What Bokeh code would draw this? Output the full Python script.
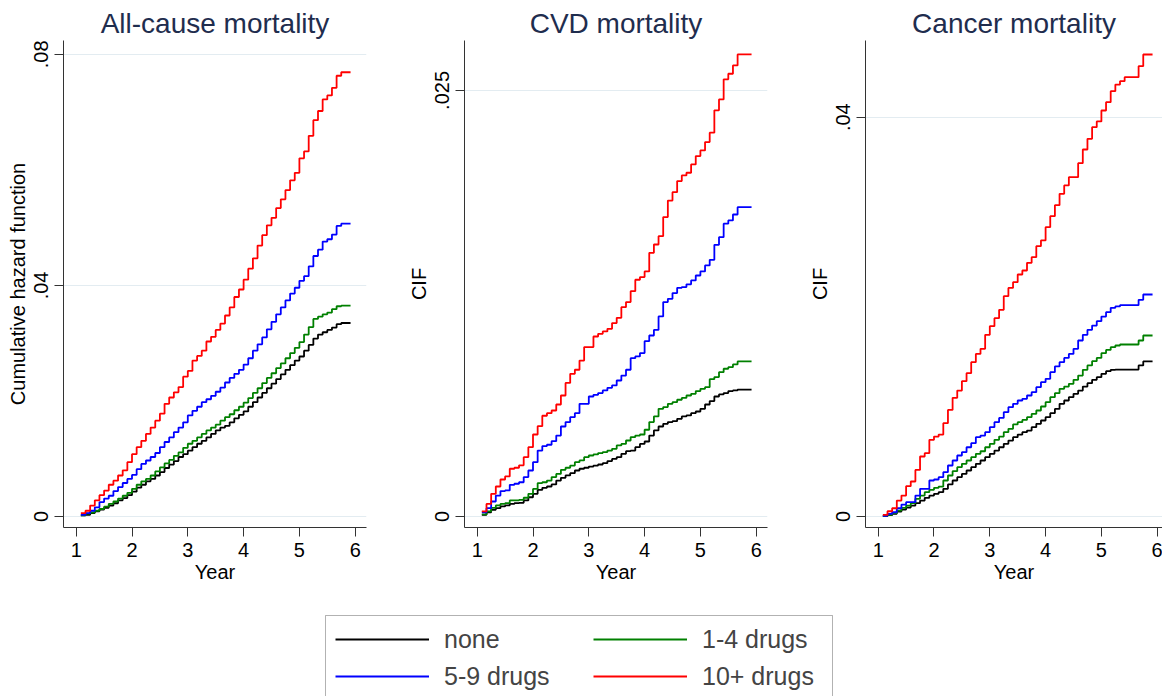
from bokeh.plotting import figure
from bokeh.layouts import column, row
from bokeh.models import Range1d, FixedTicker, Legend, LegendItem, CustomJSTickFormatter, BoxAnnotation
from bokeh.embed import file_html
from bokeh.resources import INLINE

# ---------------- data ----------------
year = [m / 12 for m in range(13, 72)]  # monthly follow-up, years

groups = ["none", "1-4 drugs", "5-9 drugs", "10+ drugs"]
colors = ["#000000", "#008000", "#0000ff", "#ff0000"]

# All-cause mortality: cumulative hazard
all_none = [0.0002, 0.0003, 0.0006, 0.0009, 0.0012, 0.0015, 0.0019, 0.0023, 0.0028, 0.0032,
            0.0037, 0.0043, 0.0050, 0.0055, 0.0061, 0.0065, 0.0071, 0.0077, 0.0084, 0.0090,
            0.0096, 0.0103, 0.0108, 0.0114, 0.0120, 0.0126, 0.0131, 0.0137, 0.0143, 0.0149,
            0.0154, 0.0157, 0.0163, 0.0170, 0.0176, 0.0182, 0.0190, 0.0198, 0.0206, 0.0214,
            0.0222, 0.0230, 0.0238, 0.0246, 0.0254, 0.0262, 0.0270, 0.0277, 0.0287, 0.0297,
            0.0308, 0.0315, 0.0319, 0.0323, 0.0327, 0.0333, 0.0335, 0.0335, 0.0335]
all_1_4 = [0.0002, 0.0005, 0.0007, 0.0010, 0.0013, 0.0017, 0.0022, 0.0026, 0.0031, 0.0036,
           0.0041, 0.0048, 0.0055, 0.0061, 0.0065, 0.0071, 0.0078, 0.0085, 0.0092, 0.0098,
           0.0105, 0.0111, 0.0119, 0.0126, 0.0131, 0.0137, 0.0143, 0.0149, 0.0154, 0.0159,
           0.0166, 0.0172, 0.0177, 0.0184, 0.0190, 0.0197, 0.0205, 0.0214, 0.0222, 0.0231,
           0.0240, 0.0248, 0.0257, 0.0265, 0.0274, 0.0283, 0.0292, 0.0302, 0.0315, 0.0328,
           0.0342, 0.0346, 0.0350, 0.0353, 0.0359, 0.0364, 0.0365, 0.0365, 0.0365]
all_5_9 = [0.0003, 0.0006, 0.0010, 0.0016, 0.0025, 0.0031, 0.0036, 0.0044, 0.0051, 0.0058,
           0.0065, 0.0072, 0.0082, 0.0091, 0.0097, 0.0103, 0.0110, 0.0120, 0.0129, 0.0137,
           0.0146, 0.0154, 0.0163, 0.0175, 0.0183, 0.0190, 0.0198, 0.0203, 0.0209, 0.0216,
           0.0223, 0.0232, 0.0240, 0.0247, 0.0254, 0.0263, 0.0274, 0.0287, 0.0298, 0.0310,
           0.0324, 0.0337, 0.0350, 0.0362, 0.0374, 0.0386, 0.0396, 0.0408, 0.0416, 0.0433,
           0.0451, 0.0462, 0.0476, 0.0480, 0.0488, 0.0503, 0.0507, 0.0507, 0.0507]
all_10p = [0.0006, 0.0010, 0.0019, 0.0028, 0.0037, 0.0045, 0.0055, 0.0062, 0.0071, 0.0080,
           0.0094, 0.0108, 0.0120, 0.0131, 0.0143, 0.0154, 0.0166, 0.0178, 0.0195, 0.0206,
           0.0215, 0.0224, 0.0242, 0.0252, 0.0270, 0.0278, 0.0287, 0.0303, 0.0311, 0.0323,
           0.0334, 0.0348, 0.0362, 0.0380, 0.0393, 0.0410, 0.0429, 0.0447, 0.0469, 0.0487,
           0.0504, 0.0517, 0.0534, 0.0549, 0.0565, 0.0582, 0.0595, 0.0620, 0.0632, 0.0659,
           0.0686, 0.0702, 0.0722, 0.0729, 0.0742, 0.0763, 0.0769, 0.0769, 0.0769]

# CVD mortality: CIF
cvd_none = [0.00010, 0.00025, 0.00039, 0.00049, 0.00059, 0.00065, 0.00074, 0.00078, 0.00080, 0.00094,
            0.00113, 0.00133, 0.00156, 0.00168, 0.00176, 0.00188, 0.00211, 0.00227, 0.00241, 0.00254,
            0.00270, 0.00280, 0.00286, 0.00293, 0.00299, 0.00305, 0.00313, 0.00325, 0.00338, 0.00348,
            0.00368, 0.00383, 0.00387, 0.00407, 0.00426, 0.00440, 0.00475, 0.00505, 0.00528, 0.00544,
            0.00554, 0.00559, 0.00573, 0.00587, 0.00593, 0.00606, 0.00616, 0.00632, 0.00657, 0.00677,
            0.00704, 0.00716, 0.00724, 0.00736, 0.00740, 0.00745, 0.00745, 0.00745, 0.00745]
cvd_1_4 = [0.00012, 0.00030, 0.00051, 0.00065, 0.00074, 0.00078, 0.00094, 0.00094, 0.00098, 0.00110,
           0.00133, 0.00162, 0.00196, 0.00201, 0.00211, 0.00231, 0.00250, 0.00274, 0.00286, 0.00299,
           0.00319, 0.00329, 0.00348, 0.00358, 0.00364, 0.00372, 0.00378, 0.00387, 0.00397, 0.00417,
           0.00426, 0.00446, 0.00466, 0.00475, 0.00481, 0.00509, 0.00554, 0.00587, 0.00632, 0.00642,
           0.00661, 0.00671, 0.00685, 0.00696, 0.00710, 0.00720, 0.00736, 0.00749, 0.00759, 0.00806,
           0.00818, 0.00847, 0.00867, 0.00876, 0.00892, 0.00910, 0.00910, 0.00910, 0.00910]
cvd_5_9 = [0.00025, 0.00049, 0.00088, 0.00123, 0.00149, 0.00153, 0.00186, 0.00192, 0.00201, 0.00231,
           0.00270, 0.00319, 0.00387, 0.00413, 0.00421, 0.00442, 0.00475, 0.00528, 0.00554, 0.00583,
           0.00606, 0.00661, 0.00661, 0.00704, 0.00714, 0.00724, 0.00740, 0.00755, 0.00769, 0.00798,
           0.00827, 0.00861, 0.00929, 0.00939, 0.00959, 0.01029, 0.01062, 0.01095, 0.01174, 0.01258,
           0.01277, 0.01311, 0.01342, 0.01346, 0.01362, 0.01385, 0.01414, 0.01438, 0.01473, 0.01506,
           0.01594, 0.01639, 0.01718, 0.01737, 0.01772, 0.01815, 0.01815, 0.01815, 0.01815]
cvd_10p = [0.00030, 0.00074, 0.00133, 0.00176, 0.00217, 0.00235, 0.00280, 0.00286, 0.00300, 0.00348,
           0.00407, 0.00481, 0.00530, 0.00591, 0.00606, 0.00622, 0.00657, 0.00710, 0.00784, 0.00837,
           0.00861, 0.00915, 0.00994, 0.00994, 0.01056, 0.01072, 0.01086, 0.01101, 0.01135, 0.01166,
           0.01228, 0.01258, 0.01322, 0.01389, 0.01405, 0.01438, 0.01547, 0.01596, 0.01645, 0.01757,
           0.01854, 0.01903, 0.01968, 0.02001, 0.02017, 0.02066, 0.02115, 0.02148, 0.02197, 0.02252,
           0.02383, 0.02447, 0.02565, 0.02598, 0.02647, 0.02711, 0.02711, 0.02711, 0.02711]

# Cancer mortality: CIF
can_none = [0.00003, 0.00013, 0.00027, 0.00050, 0.00070, 0.00090, 0.00110, 0.00134, 0.00160, 0.00187,
            0.00210, 0.00227, 0.00244, 0.00277, 0.00321, 0.00361, 0.00394, 0.00427, 0.00461, 0.00494,
            0.00528, 0.00561, 0.00594, 0.00628, 0.00661, 0.00694, 0.00728, 0.00761, 0.00795, 0.00821,
            0.00845, 0.00861, 0.00895, 0.00928, 0.00962, 0.00995, 0.01035, 0.01078, 0.01129, 0.01162,
            0.01195, 0.01229, 0.01262, 0.01302, 0.01336, 0.01369, 0.01396, 0.01429, 0.01456, 0.01469,
            0.01472, 0.01472, 0.01472, 0.01472, 0.01472, 0.01513, 0.01553, 0.01553, 0.01553]
can_1_4 = [0.00007, 0.00017, 0.00033, 0.00060, 0.00087, 0.00110, 0.00134, 0.00177, 0.00210, 0.00244,
           0.00267, 0.00287, 0.00300, 0.00361, 0.00411, 0.00454, 0.00494, 0.00528, 0.00561, 0.00594,
           0.00628, 0.00654, 0.00694, 0.00728, 0.00768, 0.00801, 0.00845, 0.00878, 0.00922, 0.00945,
           0.00968, 0.00995, 0.01028, 0.01062, 0.01102, 0.01145, 0.01195, 0.01235, 0.01279, 0.01302,
           0.01329, 0.01369, 0.01412, 0.01469, 0.01513, 0.01556, 0.01589, 0.01636, 0.01669, 0.01696,
           0.01713, 0.01723, 0.01723, 0.01723, 0.01723, 0.01763, 0.01813, 0.01813, 0.01813]
can_5_9 = [0.00007, 0.00027, 0.00043, 0.00083, 0.00120, 0.00144, 0.00144, 0.00210, 0.00277, 0.00277,
           0.00361, 0.00371, 0.00394, 0.00444, 0.00511, 0.00561, 0.00611, 0.00644, 0.00694, 0.00735,
           0.00795, 0.00811, 0.00845, 0.00895, 0.00945, 0.00988, 0.01045, 0.01095, 0.01129, 0.01162,
           0.01179, 0.01212, 0.01245, 0.01296, 0.01346, 0.01379, 0.01446, 0.01503, 0.01546, 0.01589,
           0.01629, 0.01680, 0.01763, 0.01820, 0.01870, 0.01913, 0.01957, 0.02003, 0.02047, 0.02090,
           0.02104, 0.02117, 0.02117, 0.02117, 0.02117, 0.02170, 0.02224, 0.02224, 0.02224]
can_10p = [0.00017, 0.00053, 0.00083, 0.00160, 0.00210, 0.00304, 0.00351, 0.00467, 0.00601, 0.00634,
           0.00768, 0.00801, 0.00821, 0.00935, 0.01068, 0.01189, 0.01262, 0.01356, 0.01436, 0.01546,
           0.01629, 0.01680, 0.01820, 0.01907, 0.01987, 0.02070, 0.02207, 0.02290, 0.02347, 0.02424,
           0.02464, 0.02541, 0.02598, 0.02708, 0.02765, 0.02898, 0.03008, 0.03119, 0.03232, 0.03316,
           0.03399, 0.03399, 0.03539, 0.03676, 0.03783, 0.03900, 0.03957, 0.04067, 0.04150, 0.04260,
           0.04327, 0.04361, 0.04401, 0.04401, 0.04401, 0.04511, 0.04628, 0.04628, 0.04628]

x_ticks = [1, 2, 3, 4, 5, 6]
panels = [
    dict(title="All-cause mortality", ylabel="Cumulative hazard function",
         series=[all_none, all_1_4, all_5_9, all_10p], yticks=[0, 0.04, 0.08],
         yrange=(-0.0019, 0.0824)),
    dict(title="CVD mortality", ylabel="CIF",
         series=[cvd_none, cvd_1_4, cvd_5_9, cvd_10p], yticks=[0, 0.025],
         yrange=(-0.000646, 0.02793)),
    dict(title="Cancer mortality", ylabel="CIF",
         series=[can_none, can_1_4, can_5_9, can_10p], yticks=[0, 0.04],
         yrange=(-0.0011, 0.04768)),
]

FONT = "Liberation Sans"
fmt = CustomJSTickFormatter(code="return tick == 0 ? '0' : String(tick).replace(/^0\\./, '.');")

figs = []
for i, pc in enumerate(panels):
    last = i == 2
    w = 360 if last else 401
    xmax = 6.095 if last else 6.2025
    p = figure(width=w, height=600, x_range=Range1d(0.7724, xmax),
               y_range=Range1d(*pc["yrange"]), output_backend="svg",
               toolbar_location=None, min_border_left=63,
               min_border_right=0 if last else 35, min_border_top=40,
               min_border_bottom=73, title=pc["title"])
    p.outline_line_color = None
    p.background_fill_color = "white"
    p.title.align = "center"
    p.title.text_font = FONT
    p.title.text_font_size = "28px"
    p.title.text_font_style = "normal"
    p.title.text_color = "#1f2d4e"
    p.title.standoff = 4
    if last:
        p.title.offset = 4

    p.xgrid.visible = False
    p.ygrid.ticker = FixedTicker(ticks=pc["yticks"])
    p.ygrid.grid_line_color = "#e3ecf1"
    p.ygrid.grid_line_width = 1

    p.xaxis.ticker = FixedTicker(ticks=x_ticks)
    p.yaxis.ticker = FixedTicker(ticks=pc["yticks"])
    p.yaxis.formatter = fmt
    p.yaxis.major_label_orientation = "vertical"
    for ax in (p.xaxis, p.yaxis):
        ax.axis_line_color = "#333333"
        ax.major_tick_line_color = "#333333"
        ax.major_tick_out = 9
        ax.major_tick_in = 0
        ax.minor_tick_line_color = None
        ax.major_label_text_font = FONT
        ax.major_label_text_font_size = "20px"
        ax.major_label_text_color = "black"
        ax.axis_label_text_font = FONT
        ax.axis_label_text_font_size = "20px"
        ax.axis_label_text_font_style = "normal"
        ax.axis_label_text_color = "black"
    p.xaxis.axis_label = "Year"
    p.yaxis.axis_label = pc["ylabel"]
    p.xaxis.major_label_standoff = 6
    p.xaxis.axis_label_standoff = 1
    p.yaxis.major_label_standoff = 6
    p.yaxis.axis_label_standoff = 3

    for vals, c in zip(pc["series"], colors):
        p.step(year, vals, mode="after", line_color=c, line_width=1.8)
    figs.append(p)

# ---------------- legend ----------------
leg = figure(width=1162, height=96, x_range=Range1d(0, 1162), y_range=Range1d(96, 0),
             output_backend="svg", toolbar_location=None, min_border=0,
             x_axis_type=None, y_axis_type=None)
leg.outline_line_color = None
leg.grid.visible = False
leg.add_layout(BoxAnnotation(left=325, right=832, top=15, bottom=140,
                             fill_color=None, fill_alpha=0, line_color="black",
                             line_width=1))
rends = []
for c in colors:
    rends.append(leg.line(x=[-20, -10], y=[-20, -10], line_color=c, line_width=2))

leg_rows = [[0, 1], [2, 3]]
leg_locs = [(335, 42), (335, 5)]
for idxs, loc in zip(leg_rows, leg_locs):
    lg = Legend(items=[LegendItem(label=groups[k], renderers=[rends[k]]) for k in idxs],
                location=loc, orientation="horizontal",
                label_text_font=FONT, label_text_font_size="25px",
                glyph_width=94, glyph_height=30, label_height=30, label_width=120,
                label_standoff=15, spacing=29, padding=0, margin=0,
                border_line_color=None, background_fill_alpha=0)
    leg.add_layout(lg, "center")

page = column(row(*figs), leg)
open("out.html", "w").write(file_html(page, INLINE))
